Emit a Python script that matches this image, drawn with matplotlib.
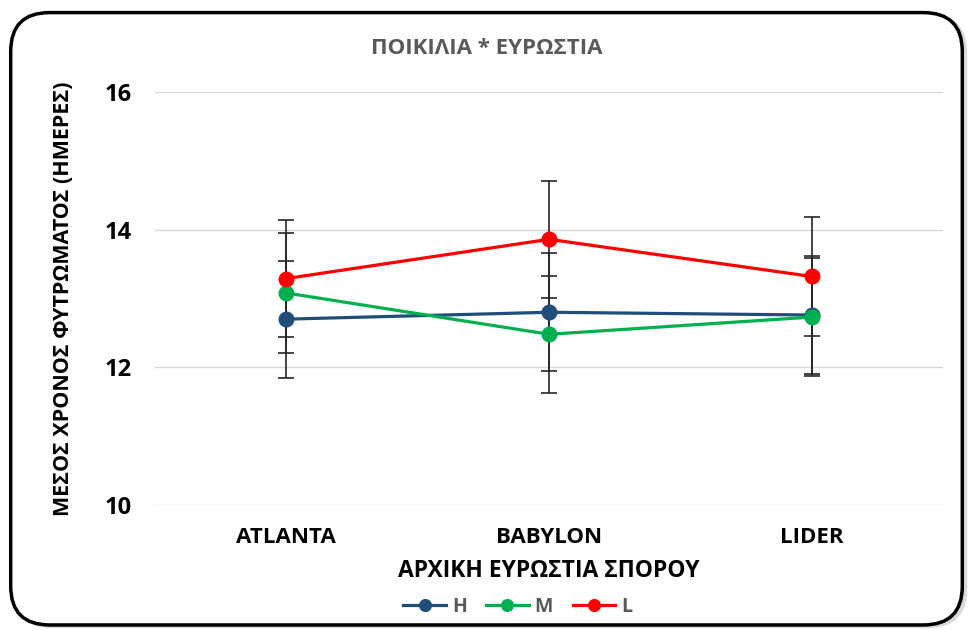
import matplotlib
matplotlib.use('Agg')
import matplotlib.pyplot as plt
from matplotlib.patches import FancyBboxPatch
import numpy as np

plt.rcParams['font.family'] = ['Open Sans', 'DejaVu Sans']

# data
varieties = ['ATLANTA', 'BABYLON', 'LIDER']
groups = ['H', 'M', 'L']
means_h = [12.70, 12.80, 12.76]
means_m = [13.08, 12.48, 12.73]
means_l = [13.29, 13.86, 13.32]
err_h = [0.85, 0.86, 0.86]
err_m = [0.87, 0.85, 0.86]
err_l = [0.85, 0.85, 0.86]

colors = {'H': '#1F4E79', 'M': '#00B050', 'L': '#FF0000'}

fig = plt.figure(figsize=(9.73, 6.3), dpi=100)
fig.patch.set_facecolor('white')

# rounded frame with soft shadow
shadow = FancyBboxPatch((0.014, 0.003), 0.98, 0.975, boxstyle='round,pad=0,rounding_size=0.04',
                        transform=fig.transFigure, facecolor='#d9d9d9', edgecolor='none',
                        mutation_aspect=973 / 630, zorder=-2)
frame = FancyBboxPatch((0.011, 0.008), 0.978, 0.972, boxstyle='round,pad=0,rounding_size=0.04',
                       transform=fig.transFigure, facecolor='white', edgecolor='black',
                       linewidth=2.5, mutation_aspect=973 / 630, zorder=-1)
fig.patches.extend([shadow, frame])

ax = fig.add_axes([155 / 973, 1 - 505 / 630, 788 / 973, 413 / 630])
ax.set_facecolor('none')
ax.set_zorder(2)
x = np.arange(len(varieties))

series = [('H', means_h, err_h), ('M', means_m, err_m), ('L', means_l, err_l)]
handles = []
for name, m, e in series:
    ax.errorbar(x, m, yerr=e, fmt='none', ecolor='#262626', elinewidth=1.2,
                capsize=6, capthick=1.2, zorder=2)
    ln, = ax.plot(x, m, color=colors[name], linewidth=2.3, marker='o', markersize=10.5,
                  label=name, zorder=3)
    handles.append(ln)

ax.set_xlim(-0.5, 2.5)
ax.set_ylim(10, 16)
ax.set_yticks([10, 12, 14, 16])
ax.set_xticks(x)
ax.set_xticklabels(varieties)
ax.grid(axis='y', color='#d9d9d9', linewidth=1)
ax.set_axisbelow(True)
for s in ax.spines.values():
    s.set_visible(False)
ax.tick_params(axis='x', length=0, labelsize=16, pad=16)
ax.tick_params(axis='y', length=0, labelsize=17, pad=17)
for lbl in ax.get_xticklabels() + ax.get_yticklabels():
    lbl.set_fontweight('bold')

ax.set_xlabel('ΑΡΧΙΚΗ ΕΥΡΩΣΤΙΑ ΣΠΟΡΟΥ', fontsize=16.5, fontweight='bold', labelpad=8)
ax.set_ylabel('ΜΕΣΟΣ ΧΡΟΝΟΣ ΦΥΤΡΩΜΑΤΟΣ (ΗΜΕΡΕΣ)', fontsize=15.5, fontweight='bold', labelpad=22)
fig.text(0.5, 1 - 48 / 630, 'ΠΟΙΚΙΛΙΑ * ΕΥΡΩΣΤΙΑ', ha='center', va='center',
         fontsize=16, fontweight='bold', color='#595959')

leg = fig.legend(handles=handles, loc='center', bbox_to_anchor=(0.532, 1 - 607 / 630), ncol=3,
                 frameon=False, fontsize=14, handlelength=2.2, columnspacing=1.0,
                 handletextpad=0.3, markerscale=0.8)
for t in leg.get_texts():
    t.set_color('#595959')
    t.set_fontweight('bold')

fig.savefig('out.png', dpi=100)
